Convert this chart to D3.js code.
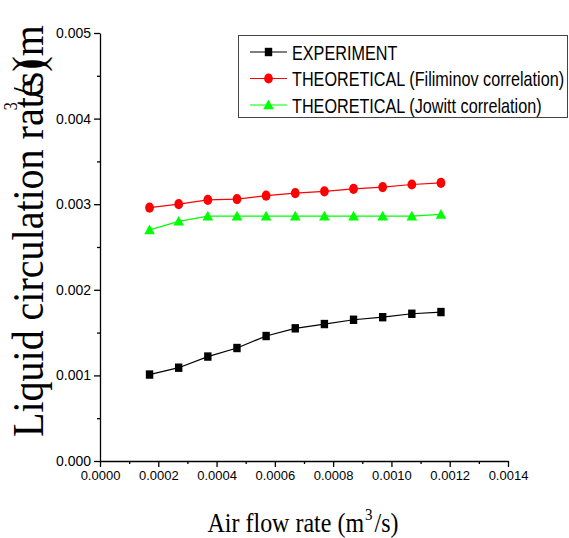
<!DOCTYPE html>
<html lang="en">
<head>
<meta charset="UTF-8">
<title>Liquid circulation rate</title>
<style>
  body { margin: 0; background: #fff; }
  svg { display: block; }
</style>
</head>
<body>
<svg></svg>
<script src="https://d3js.org/d3.v7.min.js"></script>
<script>
// data
var airFlow = [0.00017, 0.00027, 0.00037, 0.00047, 0.00057, 0.00067, 0.00077, 0.00087, 0.00097, 0.00107, 0.00117];
var experiment = [0.00101, 0.00109, 0.00122, 0.00132, 0.00146, 0.00155, 0.00160, 0.00165, 0.00168, 0.00172, 0.00174];
var filiminov = [0.00296, 0.00300, 0.00305, 0.00306, 0.00310, 0.00313, 0.00315, 0.00318, 0.00320, 0.00323, 0.00325];
var jowitt = [0.00270, 0.00280, 0.00286, 0.00286, 0.00286, 0.00286, 0.00286, 0.00286, 0.00286, 0.00286, 0.00288];
var seriesNames = ['EXPERIMENT', 'THEORETICAL (Filiminov correlation)', 'THEORETICAL (Jowitt correlation)'];
var xTicks = [0, 0.0002, 0.0004, 0.0006, 0.0008, 0.0010, 0.0012, 0.0014];
var yTicks = [0, 0.001, 0.002, 0.003, 0.004, 0.005];

var width = 569, height = 538;
var svg = d3.select('svg').attr('width', width).attr('height', height);

var x = d3.scaleLinear().domain([0, 0.0014]).range([100, 508]);
var y = d3.scaleLinear().domain([0, 0.005]).range([461, 33]);

// minor ticks first
svg.append('g')
    .attr('transform', 'translate(0,461)')
    .call(d3.axisBottom(x).tickValues(d3.range(1, 14, 2).map(d => d * 0.0001)).tickSize(3).tickFormat(''))
    .call(g => g.select('.domain').remove());
svg.append('g')
    .attr('transform', 'translate(100,0)')
    .call(d3.axisLeft(y).tickValues(d3.range(1, 10, 2).map(d => d * 0.0005)).tickSize(3).tickFormat(''))
    .call(g => g.select('.domain').remove());

var xAxis = svg.append('g')
    .attr('transform', 'translate(0,461)')
    .call(d3.axisBottom(x).tickValues(xTicks).tickSize(6).tickSizeOuter(0).tickPadding(4).tickFormat(d3.format('.4f')));
xAxis.selectAll('text').attr('font-size', 13);

var yAxis = svg.append('g')
    .attr('transform', 'translate(100,0)')
    .call(d3.axisLeft(y).tickValues(yTicks).tickSize(6).tickSizeOuter(0).tickPadding(3).tickFormat(d3.format('.3f')));
yAxis.selectAll('text').attr('font-size', 14);

svg.selectAll('.domain, .tick line').attr('stroke', '#000').attr('stroke-width', 1.3);
svg.selectAll('.tick text').attr('font-family', 'Liberation Sans, Arial, sans-serif').attr('fill', '#000');

var line = d3.line().x((d, i) => x(airFlow[i])).y(d => y(d));

function drawMarker(g, kind, color, cx, cy) {
    if (kind === 'square') {
        g.append('rect').attr('x', cx - 3.7).attr('y', cy - 4.2).attr('width', 7.4).attr('height', 8.4).attr('fill', color);
    } else if (kind === 'circle') {
        g.append('ellipse').attr('cx', cx).attr('cy', cy).attr('rx', 4.4).attr('ry', 5.1).attr('fill', color);
    } else {
        g.append('path').attr('d', d3.line()([[cx - 5.3, cy + 4.3], [cx + 5.3, cy + 4.3], [cx, cy - 5.4]]) + 'Z').attr('fill', color);
    }
}

var series = [
    { values: experiment, color: '#000000', kind: 'square' },
    { values: filiminov, color: '#ff0000', kind: 'circle' },
    { values: jowitt, color: '#00ff00', kind: 'triangle' }
];

series.forEach(s => {
    svg.append('path').datum(s.values)
        .attr('d', line).attr('fill', 'none').attr('stroke', s.color).attr('stroke-width', 1.2);
    var g = svg.append('g');
    s.values.forEach((v, i) => drawMarker(g, s.kind, s.color, x(airFlow[i]), y(v)));
});

// legend
var legend = svg.append('g');
legend.append('rect').attr('x', 238.5).attr('y', 35.5).attr('width', 329).attr('height', 82)
    .attr('fill', '#fff').attr('stroke', '#444').attr('stroke-width', 1);
series.forEach((s, i) => {
    var cy = 52 + i * 26.5;
    legend.append('line').attr('x1', 250).attr('x2', 287).attr('y1', cy).attr('y2', cy)
        .attr('stroke', s.color).attr('stroke-width', 1.2);
    drawMarker(legend, s.kind, s.color, 268.5, cy);
    legend.append('text')
        .attr('transform', 'translate(292,' + (cy + 7.5) + ') scale(1,1.22)')
        .attr('font-family', 'Liberation Sans, Arial, sans-serif').attr('font-size', 16.2)
        .text(seriesNames[i]);
});

// x title
var xt = svg.append('text')
    .attr('transform', 'translate(303,532) scale(1,1.12)')
    .attr('text-anchor', 'middle')
    .attr('font-family', 'Liberation Serif, Times New Roman, serif').attr('font-size', 24);
xt.append('tspan').text('Air flow rate (m');
xt.append('tspan').attr('font-size', 15).attr('dy', -11).attr('dx', 1).text('3');
xt.append('tspan').attr('dy', 11).attr('dx', 2).text('/s)');

// y title, overlapped the way the original export shows it
var serif = 'Liberation Serif, Times New Roman, serif';
var yt = svg.append('g').attr('transform', 'translate(43,437) rotate(-90) scale(1,1.12)');
yt.append('text').attr('font-family', serif).attr('font-size', 40)
    .text('Liquid circulation rate (m');
var probe = yt.append('text').attr('font-family', serif).attr('font-size', 40)
    .text('Liquid circulation ra');
var tPos = probe.node().getComputedTextLength();
probe.remove();
yt.append('text')
    .attr('x', tPos - 2).attr('y', -23)
    .attr('font-family', serif).attr('font-size', 16)
    .text('3');
yt.append('text')
    .attr('x', tPos + 10)
    .attr('font-family', serif).attr('font-size', 40)
    .text('/s)');
</script>
</body>
</html>
